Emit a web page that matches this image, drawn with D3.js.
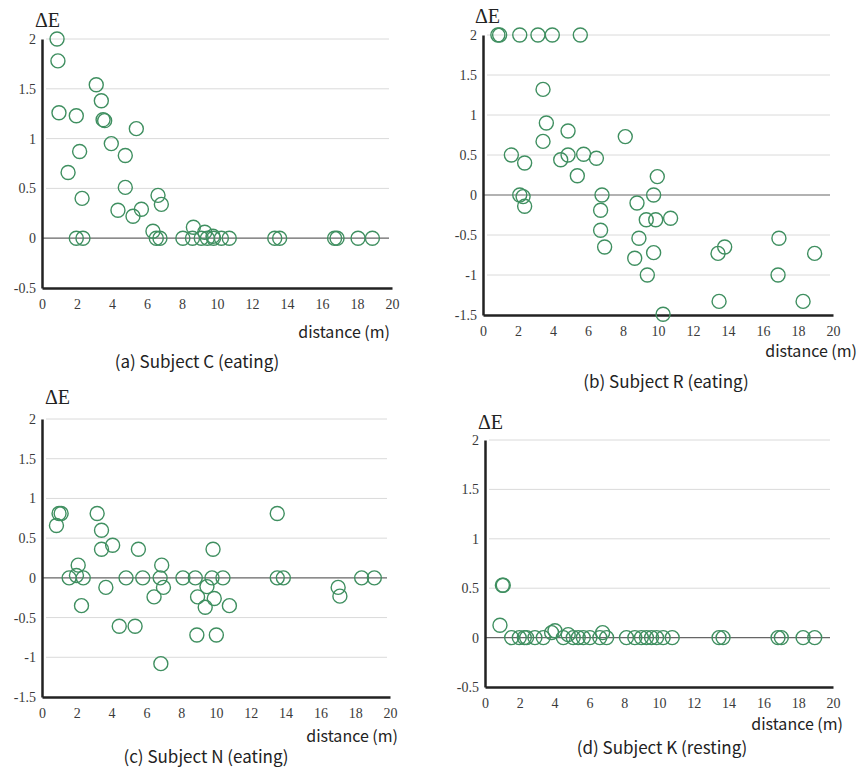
<!doctype html>
<html lang="en">
<head>
<meta charset="utf-8">
<title>Delta E vs distance</title>
<script src="https://cdn.jsdelivr.net/npm/d3@7"></script>
<style>
  body { margin: 0; background: #fff; }
  .cap { font-family: "Noto Sans CJK JP", "Noto Sans", sans-serif; fill: #222; }
</style>
</head>
<body>
<div id="chart"></div>
<script>
// x ticks shared by all panels
var xTicks = [0, 2, 4, 6, 8, 10, 12, 14, 16, 18, 20];

// (a) Subject C (eating)
var subjC_x = [0.86, 0.91, 0.97, 1.96, 2.15, 1.49, 2.29, 3.1, 3.39, 3.49, 3.58, 3.96, 4.76, 5.39, 4.76, 4.34, 5.2, 5.68, 6.63, 6.82, 6.34, 8.65, 9.3, 9.77,
               1.96, 2.34, 6.53, 6.74, 8.05, 8.6, 9.1, 9.45, 9.8, 10.25, 10.7, 13.3, 13.58, 16.72, 16.86, 18.06, 18.88];
var subjC_y = [2.0, 1.78, 1.26, 1.23, 0.87, 0.66, 0.40, 1.54, 1.38, 1.19, 1.18, 0.95, 0.83, 1.1, 0.51, 0.28, 0.22, 0.29, 0.43, 0.34, 0.07, 0.11, 0.06, 0.02,
               0, 0, 0, 0, 0, 0, 0, 0, 0, 0, 0, 0, 0, 0, 0, 0, 0];

// (b) Subject R (eating)
var subjR_x = [0.85, 0.95, 2.1, 3.14, 3.96, 5.56, 3.43, 3.62, 3.43, 1.62, 2.38, 4.86, 4.44, 4.86, 5.75, 6.48, 5.39, 8.13,
               2.1, 2.29, 2.38, 6.8, 6.72, 6.72, 6.95, 8.8, 8.91, 8.67, 9.33, 9.87, 10.72, 9.75, 9.96, 9.75, 9.39, 10.29,
               13.43, 13.81, 13.49, 16.91, 16.86, 18.29, 18.95];
var subjR_y = [2.0, 2.0, 2.0, 2.0, 2.0, 2.0, 1.32, 0.90, 0.67, 0.5, 0.40, 0.80, 0.44, 0.5, 0.51, 0.46, 0.24, 0.73,
               0, -0.02, -0.14, 0, -0.19, -0.44, -0.65, -0.10, -0.54, -0.79, -0.31, -0.31, -0.29, 0.0, 0.23, -0.72, -1.0, -1.49,
               -0.73, -0.65, -1.33, -0.54, -1.0, -1.33, -0.73];

// (c) Subject N (eating)
var subjN_x = [0.83, 0.98, 1.1, 1.56, 2.08, 1.98, 2.37, 2.27, 3.17, 3.42, 3.42, 4.06, 3.67, 4.44, 4.83, 5.54, 5.35, 5.79,
               6.44, 6.88, 6.79, 6.98, 6.83, 8.1, 8.81, 8.94, 8.9, 9.48, 9.38, 9.77, 9.83, 9.9, 10.02, 10.4, 10.77,
               13.52, 13.52, 13.87, 17.02, 17.12, 18.37, 19.1];
var subjN_y = [0.66, 0.81, 0.81, 0, 0.16, 0.03, 0, -0.35, 0.81, 0.6, 0.36, 0.41, -0.12, -0.61, 0, 0.36, -0.61, 0,
               -0.24, 0.16, 0, -0.12, -1.08, 0, 0, -0.24, -0.72, -0.11, -0.37, 0, 0.36, -0.26, -0.72, 0, -0.35,
               0.81, 0, 0, -0.12, -0.23, 0, 0];

// (d) Subject K (resting)
var subjK_x = [1.0, 1.05, 0.86, 1.53, 1.97, 2.26, 2.39, 2.87, 3.35, 3.83, 4.02, 4.5, 4.78, 5.07, 5.36, 5.65, 6.03, 6.6, 6.76, 6.99,
               8.13, 8.61, 8.99, 9.28, 9.57, 9.86, 10.24, 10.76, 13.45, 13.68, 16.84, 17.03, 18.28, 18.95];
var subjK_y = [0.53, 0.53, 0.125, 0, 0, 0, 0, 0, 0, 0.05, 0.07, 0, 0.03, 0, 0, 0, 0, 0, 0.05, 0,
               0, 0, 0, 0, 0, 0, 0, 0, 0, 0, 0, 0, 0, 0];

var ticksShort = [-0.5, 0, 0.5, 1, 1.5, 2];
var ticksLong = [-1.5, -1, -0.5, 0, 0.5, 1, 1.5, 2];

var width = 861, height = 769;
var svg = d3.select("#chart").append("svg")
    .attr("width", width)
    .attr("height", height);

// panel layout
var panels = [
  {xs: subjC_x, ys: subjC_y, yTicks: ticksShort, xr: [42, 392], yr: [288, 39], de: [35, 27],
   dist: [390, 338], cap: [197, 368], caption: "(a) Subject C (eating)"},
  {xs: subjR_x, ys: subjR_y, yTicks: ticksLong, xr: [483, 833], yr: [315, 35], de: [475, 23],
   dist: [857, 357], cap: [666, 388], caption: "(b) Subject R (eating)"},
  {xs: subjN_x, ys: subjN_y, yTicks: ticksLong, xr: [42, 390], yr: [697, 419], de: [45, 404],
   dist: [398, 742], cap: [206, 763], caption: "(c) Subject N (eating)"},
  {xs: subjK_x, ys: subjK_y, yTicks: ticksShort, xr: [485, 833], yr: [687, 440], de: [478, 429],
   dist: [843, 730], cap: [662, 754], caption: "(d) Subject K (resting)"}
];

var fmt = function(d) { return String(d); };

function styleTicks(sel) {
  sel.selectAll("text")
    .style("font-family", "'Liberation Serif', 'DejaVu Serif', serif")
    .style("font-size", "14px")
    .style("fill", "#3a3a3a");
}

panels.forEach(function(p) {
  var x = d3.scaleLinear().domain([0, 20]).range(p.xr);
  var y = d3.scaleLinear().domain(d3.extent(p.yTicks)).range(p.yr);
  var g = svg.append("g");

  // gridlines
  g.selectAll(".grid")
    .data(p.yTicks.filter(function(t) { return t !== p.yTicks[0] && t !== 0; }))
    .enter().append("line")
      .attr("x1", x(0) + 4).attr("x2", x(20) - 3)
      .attr("y1", function(d) { return y(d); })
      .attr("y2", function(d) { return y(d); })
      .attr("stroke", "#dadada")
      .attr("stroke-width", 1);

  // zero line
  g.append("line")
    .attr("x1", x(0)).attr("x2", x(20) - 3)
    .attr("y1", y(0)).attr("y2", y(0))
    .attr("stroke", "#666")
    .attr("stroke-width", 1.2);

  // axes
  var ax = g.append("g")
    .attr("transform", "translate(0," + y(p.yTicks[0]) + ")")
    .call(d3.axisBottom(x).tickValues(xTicks).tickSize(0).tickPadding(11).tickFormat(fmt));
  ax.select(".domain").attr("stroke", "#222").attr("stroke-width", 2.5);
  styleTicks(ax);

  var ay = g.append("g")
    .attr("transform", "translate(" + x(0) + ",0)")
    .call(d3.axisLeft(y).tickValues(p.yTicks).tickSize(0).tickPadding(6).tickFormat(fmt));
  ay.select(".domain").attr("stroke", "#222").attr("stroke-width", 2.5);
  styleTicks(ay);

  // points
  g.selectAll("circle")
    .data(p.xs.map(function(v, i) { return [v, p.ys[i]]; }))
    .enter().append("circle")
      .attr("cx", function(d) { return x(d[0]); })
      .attr("cy", function(d) { return y(d[1]); })
      .attr("r", 7)
      .attr("fill", "none")
      .attr("stroke", "#3f8f60")
      .attr("stroke-width", 1.4);

  // labels
  g.append("text")
    .attr("x", p.de[0]).attr("y", p.de[1])
    .style("font-family", "'Liberation Serif', serif")
    .style("font-size", "20px")
    .style("fill", "#222")
    .text("ΔE");

  g.append("text").attr("class", "cap")
    .attr("x", p.dist[0]).attr("y", p.dist[1])
    .attr("text-anchor", "end")
    .style("font-size", "16px")
    .text("distance (m)");

  g.append("text").attr("class", "cap")
    .attr("x", p.cap[0]).attr("y", p.cap[1])
    .attr("text-anchor", "middle")
    .style("font-size", "17px")
    .text(p.caption);
});
</script>
</body>
</html>
